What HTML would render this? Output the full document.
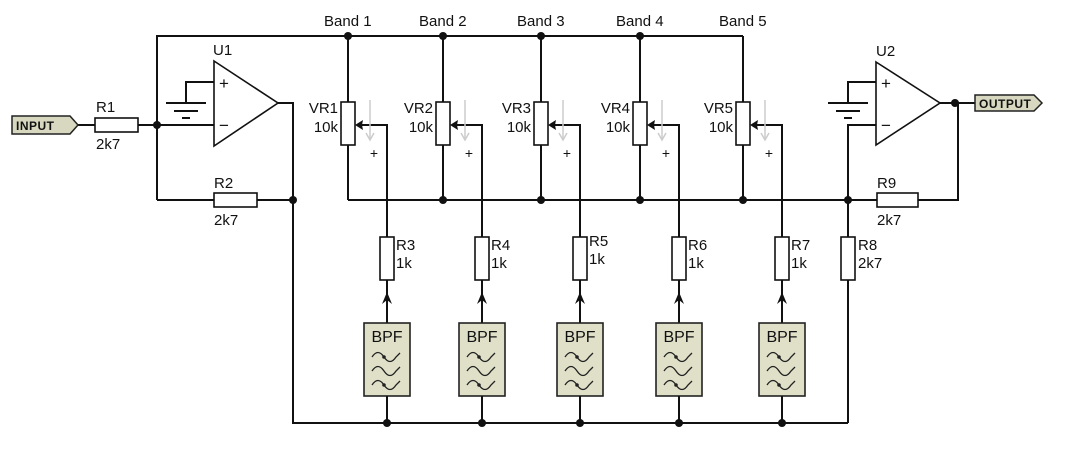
<!DOCTYPE html>
<html><head><meta charset="utf-8"><style>
html,body{margin:0;padding:0;background:#fff;}
svg{display:block;}
text{font-family:"Liberation Sans",Arial,sans-serif;font-size:15px;fill:#111;}
</style></head><body>
<svg width="1069" height="450" viewBox="0 0 1069 450" xmlns="http://www.w3.org/2000/svg">
<defs>
<g id="band">
  <line x1="-39" y1="36" x2="-39" y2="102" stroke="#111" stroke-width="2"/>
  <rect x="-46" y="102" width="14" height="43" fill="#fff" stroke="#111" stroke-width="1.6"/>
  <line x1="-39" y1="145" x2="-39" y2="200" stroke="#111" stroke-width="2"/>
  <polyline points="-26,125 0,125 0,237" fill="none" stroke="#111" stroke-width="2"/>
  <polygon points="-32,125 -24,120 -25,125 -24,130" fill="#111"/>
  <line x1="-17" y1="100" x2="-17" y2="140" stroke="#ccc" stroke-width="1.5"/>
  <polyline points="-21,133 -17,140 -13,133" fill="none" stroke="#ccc" stroke-width="1.5"/>
  <text x="-13" y="158" text-anchor="middle" style="font-size:14px">+</text>
  <rect x="-7" y="237" width="14" height="43" fill="#fff" stroke="#111" stroke-width="1.6"/>
  <line x1="0" y1="280" x2="0" y2="323" stroke="#111" stroke-width="2"/>
  <polygon points="0,292 -5,304 0,300 5,304" fill="#111"/>
  <rect x="-23" y="323" width="46" height="73" fill="#e0e0c8" stroke="#222" stroke-width="1.6"/>
  <text x="0" y="342" text-anchor="middle" style="font-size:16px">BPF</text>
  <g fill="none" stroke="#222" stroke-width="1.3">
    <path d="M-15,357 q6,-9 12,0 t12,0 l4,-4"/>
    <path d="M-15,371 q6,-9 12,0 t12,0 l4,-4"/>
    <path d="M-15,385 q6,-9 12,0 t12,0 l4,-4"/>
  </g>
  <circle cx="-3" cy="357" r="1.8" fill="#222"/>
  <circle cx="-3" cy="385" r="1.8" fill="#222"/>
  <line x1="0" y1="396" x2="0" y2="423" stroke="#111" stroke-width="2"/>
  <circle cx="0" cy="423" r="4" fill="#111"/>
</g>
</defs>
<g stroke="#111" stroke-width="2" fill="none">
  <polyline points="157,200 157,36 743,36"/>
  <line x1="78" y1="125" x2="95" y2="125"/>
  <line x1="138" y1="125" x2="214" y2="125"/>
  <line x1="157" y1="200" x2="214" y2="200"/>
  <line x1="257" y1="200" x2="293" y2="200"/>
  <polyline points="278,103 293,103 293,423 848,423"/>
  <polyline points="214,82 186,82 186,103"/>
  <line x1="166" y1="103" x2="206" y2="103"/>
  <line x1="174" y1="111" x2="198" y2="111"/>
  <line x1="182" y1="118" x2="190" y2="118"/>
  <line x1="348" y1="200" x2="877" y2="200"/>
  <polyline points="918,200 958,200 958,103"/>
  <line x1="940" y1="103" x2="975" y2="103"/>
  <polyline points="876,82 848,82 848,103"/>
  <line x1="828" y1="103" x2="868" y2="103"/>
  <line x1="836" y1="111" x2="860" y2="111"/>
  <line x1="844" y1="118" x2="852" y2="118"/>
  <polyline points="876,125 848,125 848,237"/>
  <line x1="848" y1="280" x2="848" y2="423"/>
</g>
<g fill="#fff" stroke="#111" stroke-width="1.6">
  <rect x="95" y="118" width="43" height="14"/>
  <rect x="214" y="193" width="43" height="14"/>
  <rect x="877" y="193" width="41" height="14"/>
  <rect x="841" y="237" width="14" height="43"/>
  <polygon points="214,61 278,103 214,146"/>
  <polygon points="876,62 940,103 876,145"/>
</g>
<text x="219" y="89" style="font-size:17px">+</text>
<text x="219" y="131" style="font-size:17px">−</text>
<text x="881" y="89" style="font-size:17px">+</text>
<text x="881" y="131" style="font-size:17px">−</text>
<polygon points="12,116 70,116 78,125 70,134 12,134" fill="#d8d8c0" stroke="#222" stroke-width="1.5"/>
<text x="16" y="130" style="font-size:12px;font-weight:bold;letter-spacing:0.5px">INPUT</text>
<polygon points="975,95 1034,95 1042,103 1034,111 975,111" fill="#d8d8c0" stroke="#222" stroke-width="1.5"/>
<text x="979" y="108" style="font-size:12px;font-weight:bold;letter-spacing:0.5px">OUTPUT</text>
<g fill="#111">
  <circle cx="157" cy="125" r="4"/><circle cx="293" cy="200" r="4"/>
  <circle cx="348" cy="36" r="4"/><circle cx="443" cy="36" r="4"/><circle cx="541" cy="36" r="4"/><circle cx="640" cy="36" r="4"/>
  <circle cx="443" cy="200" r="4"/><circle cx="541" cy="200" r="4"/><circle cx="640" cy="200" r="4"/><circle cx="743" cy="200" r="4"/><circle cx="848" cy="200" r="4"/>
  <circle cx="955" cy="103" r="4"/>
</g>
<use href="#band" x="387"/>
<use href="#band" x="482"/>
<use href="#band" x="580"/>
<use href="#band" x="679"/>
<use href="#band" x="782"/>
<text x="96" y="112">R1</text><text x="96" y="149">2k7</text>
<text x="214" y="188">R2</text><text x="214" y="225">2k7</text>
<text x="213" y="55">U1</text><text x="876" y="56">U2</text>
<text x="877" y="188">R9</text><text x="877" y="225">2k7</text>
<text x="858" y="250">R8</text><text x="858" y="268">2k7</text>
<text x="324" y="26">Band 1</text><text x="419" y="26">Band 2</text><text x="517" y="26">Band 3</text><text x="616" y="26">Band 4</text><text x="719" y="26">Band 5</text>
<g text-anchor="end">
<text x="338" y="113">VR1</text><text x="338" y="132">10k</text>
<text x="433" y="113">VR2</text><text x="433" y="132">10k</text>
<text x="531" y="113">VR3</text><text x="531" y="132">10k</text>
<text x="630" y="113">VR4</text><text x="630" y="132">10k</text>
<text x="733" y="113">VR5</text><text x="733" y="132">10k</text>
</g>
<text x="396" y="250">R3</text><text x="396" y="268">1k</text>
<text x="491" y="250">R4</text><text x="491" y="268">1k</text>
<text x="589" y="246">R5</text><text x="589" y="264">1k</text>
<text x="688" y="250">R6</text><text x="688" y="268">1k</text>
<text x="791" y="250">R7</text><text x="791" y="268">1k</text>
</svg>
</body></html>
